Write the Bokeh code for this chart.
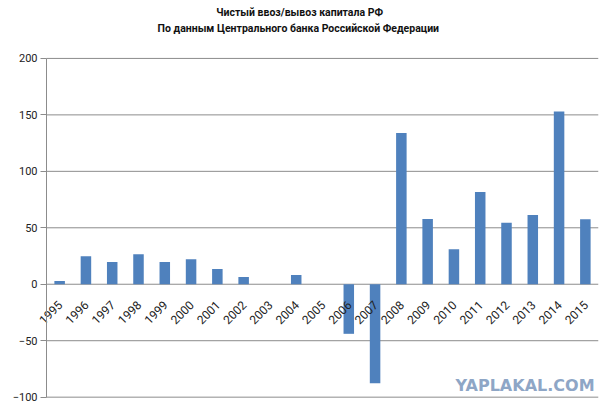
import math
from bokeh.plotting import figure
from bokeh.models import Label, FixedTicker, Range1d
from bokeh.core.properties import value
from bokeh.embed import file_html
from bokeh.resources import INLINE

years = ["1995", "1996", "1997", "1998", "1999", "2000", "2001", "2002", "2003", "2004",
         "2005", "2006", "2007", "2008", "2009", "2010", "2011", "2012", "2013", "2014", "2015"]
flows = [2.9, 24.8, 19.6, 26.6, 19.6, 22.2, 13.4, 6.4, 0.0, 8.2,
         0.0, -43.9, -87.7, 133.9, 57.8, 31.0, 81.6, 54.4, 61.4, 152.9, 57.5]
y_ticks = [-100, -50, 0, 50, 100, 150, 200]
title_1 = "Чистый ввоз/вывоз капитала РФ"
title_2 = "По данным Центрального банка Российской  Федерации"
watermark = "YAPLAKAL.COM"

pos = list(range(len(years)))
x_lo, x_hi = pos[0] - 0.5, pos[-1] + 0.5
y_lo, y_hi = y_ticks[0], y_ticks[-1]

# frame covers the whole canvas; the value axis is pinned inside it
p = figure(x_range=Range1d(x_lo - 1.75, x_hi), y_range=Range1d(y_lo - 6.5, 251.3),
           width=600, height=404, output_backend="svg", toolbar_location=None,
           min_border_left=0, min_border_right=2, min_border_top=0, min_border_bottom=0)

p.xaxis.visible = False
p.xgrid.visible = False
p.ygrid.visible = False
p.outline_line_color = None

# horizontal gridlines (incl. the zero line) limited to the plot area
p.segment(x0=[x_lo] * len(y_ticks), x1=[x_hi] * len(y_ticks), y0=y_ticks, y1=y_ticks,
          line_color="#8c8c8c", line_width=1, level="underlay")

# y axis at the left edge of the category area
p.yaxis.fixed_location = x_lo
p.yaxis.ticker = FixedTicker(ticks=y_ticks)
p.yaxis.bounds = (y_lo, y_hi)
p.yaxis.axis_line_color = "#8c8c8c"
p.yaxis.major_tick_line_color = "#8c8c8c"
p.yaxis.major_tick_out = 6
p.yaxis.major_tick_in = 0
p.yaxis.minor_tick_line_color = None
p.yaxis.major_label_standoff = 3
p.yaxis.major_label_text_font = "Roboto"
p.yaxis.major_label_text_font_size = "11px"
p.yaxis.major_label_text_color = "#222222"

p.vbar(x=pos, top=flows, width=0.4, color="#4f81bd", line_color=None)

# category labels, rotated 45 degrees, hanging below the zero line
p.text(x=pos, y=0, text=years, angle=math.pi / 4, text_align="right",
       text_baseline="middle", text_font=value("Roboto"), text_font_size="12px",
       text_color="#222222", x_offset=0.5, y_offset=18.5)

for txt, yy in ((title_1, 240.7), (title_2, 226.5)):
    p.add_layout(Label(x=9.13, y=yy, text=txt, text_align="center", text_baseline="middle",
                       text_font="Roboto", text_font_size="10.5px", text_font_style="bold",
                       text_color="#111111"))

p.add_layout(Label(x=15.06, y=-89.5, text=watermark, text_font="DejaVu Sans",
                   text_font_size="16px", text_font_style="bold", text_color="#8ea6c6",
                   text_baseline="middle"))

open("out.html", "w").write(file_html(p, INLINE))
